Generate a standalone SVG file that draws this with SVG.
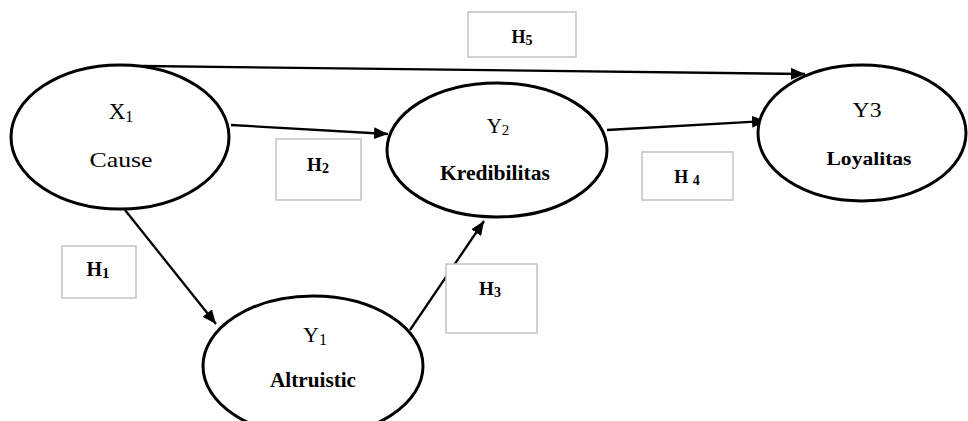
<svg xmlns="http://www.w3.org/2000/svg" width="968" height="421" viewBox="0 0 968 421">
<style>
.node{fill:#fff;stroke:#000;stroke-width:3}
.box{fill:#fff;stroke:#c4c4c4;stroke-width:1.5}
.edge{stroke:#000;stroke-width:2.3;fill:none}
.t{font-family:'Liberation Serif','DejaVu Serif','Times New Roman',serif;fill:#000;text-anchor:middle}
.b{font-weight:bold}
</style>
<defs>
<marker id="ah" markerUnits="userSpaceOnUse" markerWidth="15" markerHeight="12" refX="14" refY="6" orient="auto">
<path d="M0,0 L14,6 L0,12 z" fill="#000"/>
</marker>
</defs>
<g id="connectors">
<line class="edge" x1="143" y1="66" x2="805" y2="74" marker-end="url(#ah)"/>
<line class="edge" x1="231" y1="125" x2="388" y2="134" marker-end="url(#ah)"/>
<line class="edge" x1="607" y1="130" x2="766" y2="121" marker-end="url(#ah)"/>
<line class="edge" x1="125" y1="210" x2="216" y2="324" marker-end="url(#ah)"/>
<line class="edge" x1="410" y1="330" x2="484" y2="221" marker-end="url(#ah)"/>
</g>
<g id="X1">
<ellipse class="node" cx="120" cy="137" rx="109" ry="72"/>
<text class="t" x="121" y="119" font-size="23">X<tspan font-size="16" dy="3">1</tspan></text>
<text class="t" x="121" y="167" font-size="22" textLength="63" lengthAdjust="spacingAndGlyphs">Cause</text>
</g>
<g id="Y2">
<ellipse class="node" cx="497" cy="150" rx="110" ry="67"/>
<text class="t" x="498" y="133" font-size="21">Y<tspan font-size="15" dy="2">2</tspan></text>
<text class="t b" x="495" y="180" font-size="21" textLength="110" lengthAdjust="spacingAndGlyphs">Kredibilitas</text>
</g>
<g id="Y3">
<ellipse class="node" cx="862" cy="133" rx="104" ry="68"/>
<text class="t" x="867" y="117" font-size="20" textLength="29" lengthAdjust="spacingAndGlyphs">Y3</text>
<text class="t b" x="869" y="165" font-size="19" textLength="85" lengthAdjust="spacingAndGlyphs">Loyalitas</text>
</g>
<g id="Y1">
<ellipse class="node" cx="313" cy="366" rx="110" ry="70"/>
<text class="t" x="315" y="342" font-size="22">Y<tspan font-size="16" dy="3">1</tspan></text>
<text class="t b" x="313" y="387" font-size="20" textLength="86" lengthAdjust="spacingAndGlyphs">Altruistic</text>
</g>
<g id="H5">
<rect class="box" x="468" y="12" width="108" height="45"/>
<text class="t b" x="522" y="43" font-size="18">H<tspan font-size="14" dy="2">5</tspan></text>
</g>
<g id="H2">
<rect class="box" x="276" y="139" width="85" height="61"/>
<text class="t b" x="318" y="171" font-size="19">H<tspan font-size="14" dy="2">2</tspan></text>
</g>
<g id="H4">
<rect class="box" x="642" y="152" width="91" height="48"/>
<text class="t b" x="687" y="183" font-size="18">H <tspan font-size="14" dy="2">4</tspan></text>
</g>
<g id="H1">
<rect class="box" x="62" y="246" width="74" height="52"/>
<text class="t b" x="98" y="276" font-size="20">H<tspan font-size="15" dy="2">1</tspan></text>
</g>
<g id="H3">
<rect class="box" x="446" y="264" width="91" height="69"/>
<text class="t b" x="490" y="295" font-size="19">H<tspan font-size="14" dy="2">3</tspan></text>
</g>
</svg>
